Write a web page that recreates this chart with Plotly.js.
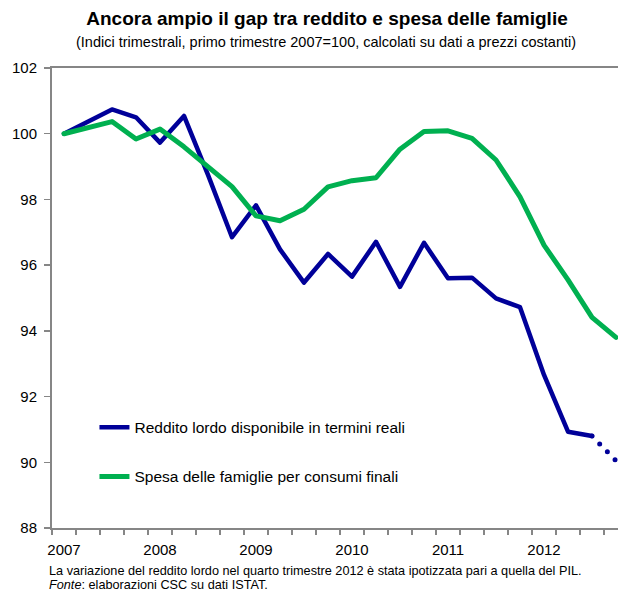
<!DOCTYPE html>
<html>
<head>
<meta charset="utf-8">
<script src="https://cdn.plot.ly/plotly-3.0.1.min.js"></script>
<style>
html,body{margin:0;padding:0;background:#fff;}
#chart{width:618px;height:592px;}
.scatterlayer .js-line{stroke-linejoin:round;stroke-linecap:round;}
</style>
</head>
<body>
<div id="chart"></div>
<script>
// Quarters: 2007 Q1 ... 2012 Q4
const years = ['2007','2008','2009','2010','2011','2012'];
const quarters = ['T1','T2','T3','T4'];
const reddito = [100.0, 100.38, 100.74, 100.5, 99.73, 100.54, 98.75, 96.85,
                 97.82, 96.48, 95.47, 96.34, 95.65, 96.71, 95.34, 96.68,
                 95.6, 95.62, 94.99, 94.72, 92.66, 90.93, 90.8, 90.05];
const spesa   = [100.0, 100.18, 100.37, 99.84, 100.14, 99.6, 99.0, 98.39,
                 97.5, 97.35, 97.7, 98.38, 98.57, 98.66, 99.53, 100.07,
                 100.09, 99.86, 99.2, 98.08, 96.61, 95.55, 94.41, 93.8];
const yTicks = [88, 90, 92, 94, 96, 98, 100, 102];
const nameReddito = 'Reddito lordo disponibile in termini reali';
const nameSpesa = 'Spesa delle famiglie per consumi finali';

const labels = [];
years.forEach(y => quarters.forEach(q => labels.push(y + ' ' + q)));
const idx = labels.map((_, i) => i);
const estimatedFrom = reddito.length - 2; // last quarter is an estimate (dotted)

const blue = '#000099';
const green = '#00B050';
const axisCol = '#868686';
const font = 'Liberation Sans, Arial, sans-serif';

const traces = [
  {x: idx.slice(0, estimatedFrom + 1), y: reddito.slice(0, estimatedFrom + 1), text: labels,
   type: 'scatter', mode: 'lines', name: nameReddito, legendgroup: 'a',
   line: {color: blue, width: 4.5}},
  {x: idx.slice(estimatedFrom), y: reddito.slice(estimatedFrom),
   type: 'scatter', mode: 'lines', showlegend: false, legendgroup: 'a',
   line: {color: blue, width: 5, dash: '0px,11px'}},
  {x: idx, y: spesa, type: 'scatter', mode: 'lines', name: nameSpesa, legendgroup: 'b',
   line: {color: green, width: 5}}
];

const layout = {
  width: 618, height: 592,
  margin: {l: 52, r: 0, t: 68, b: 64},
  paper_bgcolor: '#fff', plot_bgcolor: '#fff',
  font: {family: font, color: '#000', size: 14},
  showlegend: true,
  legend: {x: 0.075, y: 0.255, xanchor: 'left', yanchor: 'top',
           bgcolor: 'rgba(0,0,0,0)', font: {size: 15.5, family: font},
           traceorder: 'grouped', tracegroupgap: 26},
  title: {text: '<b>Ancora ampio il gap tra reddito e spesa delle famiglie</b>',
          font: {size: 19, family: font, color: '#000'},
          x: 327/618, xanchor: 'center', xref: 'container', y: 1 - 18/592, yanchor: 'middle'},
  xaxis: {
    range: [-0.5, 23.083], showgrid: false, zeroline: false,
    showline: true, linecolor: axisCol, linewidth: 2, mirror: true,
    tickmode: 'array', tickvals: years.map((_, k) => 4 * k), ticktext: years,
    ticks: 'outside', ticklen: 0, tickfont: {size: 15}, ticklabelstandoff: 7,
    minor: {tickmode: 'array', tickvals: idx.map(i => i - 0.5),
            ticks: 'outside', ticklen: 5, tickwidth: 1.5, tickcolor: axisCol},
    fixedrange: true
  },
  yaxis: {
    range: [88, 102], showgrid: false, zeroline: false,
    showline: true, linecolor: axisCol, linewidth: 2,
    tickmode: 'array', tickvals: yTicks, ticktext: yTicks.map(String),
    ticks: 'outside', ticklen: 6, tickwidth: 1.5, tickcolor: axisCol,
    tickfont: {size: 15}, ticklabelstandoff: 4, fixedrange: true
  },
  annotations: [
    {text: '(Indici trimestrali, primo trimestre 2007=100, calcolati su dati a prezzi costanti)',
     xref: 'paper', yref: 'paper', x: (326-52)/566, y: 1 + (68-42)/460,
     xanchor: 'center', yanchor: 'middle', showarrow: false,
     font: {size: 14.5, family: font, color: '#000'}},
    {text: 'La variazione del reddito lordo nel quarto trimestre 2012 è stata ipotizzata pari a quella del PIL.',
     xref: 'paper', yref: 'paper', x: (47-52)/566, y: -(571-528)/460,
     xanchor: 'left', yanchor: 'middle', align: 'left', showarrow: false,
     font: {size: 12.7, family: font, color: '#000'}},
    {text: '<i>Fonte</i>: elaborazioni CSC su dati ISTAT.',
     xref: 'paper', yref: 'paper', x: (47-52)/566, y: -(584.5-528)/460,
     xanchor: 'left', yanchor: 'middle', align: 'left', showarrow: false,
     font: {size: 12.7, family: font, color: '#000'}}
  ]
};

Plotly.newPlot('chart', traces, layout, {displayModeBar: false, staticPlot: true});
</script>
</body>
</html>
